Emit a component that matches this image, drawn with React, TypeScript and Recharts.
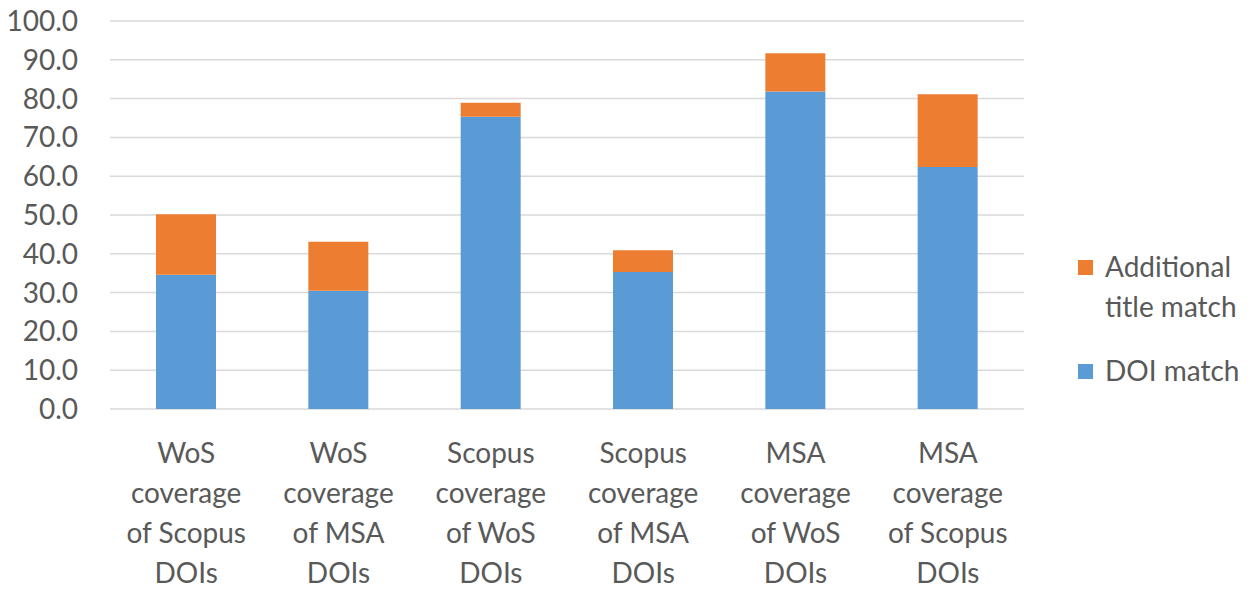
import React from "react";
import { BarChart, Bar, XAxis, YAxis, CartesianGrid, Legend } from "recharts";

const categories = [
  "WoS coverage of Scopus DOIs",
  "WoS coverage of MSA DOIs",
  "Scopus coverage of WoS DOIs",
  "Scopus coverage of MSA DOIs",
  "MSA coverage of WoS DOIs",
  "MSA coverage of Scopus DOIs",
];
const tickLines = [
  ["WoS", "coverage", "of Scopus", "DOIs"],
  ["WoS", "coverage", "of MSA", "DOIs"],
  ["Scopus", "coverage", "of WoS", "DOIs"],
  ["Scopus", "coverage", "of MSA", "DOIs"],
  ["MSA", "coverage", "of WoS", "DOIs"],
  ["MSA", "coverage", "of Scopus", "DOIs"],
];
const doiMatch = [34.6, 30.5, 75.3, 35.3, 81.8, 62.4];
const additionalTitleMatch = [15.6, 12.6, 3.6, 5.6, 9.9, 18.7];
const yTicks = [0, 10, 20, 30, 40, 50, 60, 70, 80, 90, 100];

const data = categories.map((c, i) => ({
  name: c,
  idx: i,
  doi: doiMatch[i],
  title: additionalTitleMatch[i],
}));

const FONT = "Lato, 'Open Sans', sans-serif";
const TEXT = "#595959";
const BLUE = "#5B9BD5";
const ORANGE = "#ED7D31";

const XTick = (props: any) => {
  const { x, y, payload } = props;
  const lines = tickLines[payload.index] || [String(payload.value)];
  return (
    <text x={x} y={y} textAnchor="middle" fill={TEXT} fontSize={28} fontFamily={FONT}>
      {lines.map((l: string, i: number) => (
        <tspan key={i} x={x} dy={i === 0 ? 46 : 40}>
          {l}
        </tspan>
      ))}
    </text>
  );
};

const LegendContent = () => (
  <div style={{ fontFamily: FONT, fontSize: 28, color: TEXT, lineHeight: "40px" }}>
    <div style={{ display: "flex", alignItems: "flex-start" }}>
      <div style={{ width: 15, height: 15, background: ORANGE, marginTop: 14, marginRight: 12 }} />
      <div>
        Additional
        <br />
        title match
      </div>
    </div>
    <div style={{ display: "flex", alignItems: "flex-start", marginTop: 24 }}>
      <div style={{ width: 15, height: 15, background: BLUE, marginTop: 14, marginRight: 12 }} />
      <div>DOI match</div>
    </div>
  </div>
);

export default function App() {
  return (
    <div style={{ position: "absolute", left: 0, top: 0, width: 1256, height: 589, background: "#fff" }}>
      <BarChart
        width={1256}
        height={589}
        data={data}
        margin={{ top: 21, right: 46, bottom: 0, left: 0 }}
        barSize={60}
      >
        <CartesianGrid vertical={false} stroke="#D9D9D9" strokeWidth={1.5} />
        <XAxis
          dataKey="name"
          axisLine={false}
          tickLine={false}
          height={180}
          interval={0}
          tick={<XTick />}
        />
        <YAxis
          domain={[0, 100]}
          ticks={yTicks}
          width={110}
          axisLine={false}
          tickLine={false}
          tickSize={0}
          tickMargin={32}
          tickFormatter={(v: number) => v.toFixed(1)}
          tick={{ fill: TEXT, fontSize: 28, fontFamily: FONT }}
        />
        <Legend
          layout="vertical"
          align="right"
          verticalAlign="middle"
          content={<LegendContent />}
          wrapperStyle={{ position: "absolute", left: 1078, top: 246, width: 186 }}
        />
        <Bar dataKey="doi" stackId="a" fill={BLUE} isAnimationActive={false} name="DOI match" />
        <Bar dataKey="title" stackId="a" fill={ORANGE} isAnimationActive={false} name="Additional title match" />
      </BarChart>
    </div>
  );
}
